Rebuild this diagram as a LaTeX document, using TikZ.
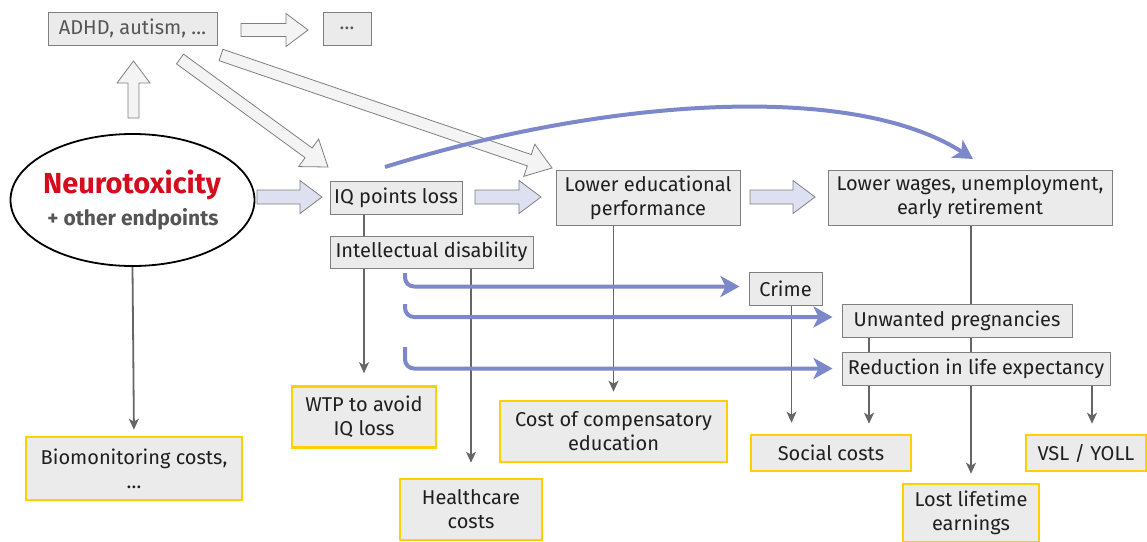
\documentclass[tikz,border=0pt]{standalone}
\usepackage{fontspec}
\setmainfont{Fira Sans}
\usetikzlibrary{shapes.geometric,arrows.meta,backgrounds,calc}
\definecolor{boxfill}{HTML}{EBEBEB}
\definecolor{boxdraw}{HTML}{7F7F7F}
\definecolor{gold}{HTML}{FFD000}
\definecolor{blueline}{HTML}{7C88CA}
\definecolor{lav}{HTML}{DDE0F1}
\definecolor{pale}{HTML}{F3F4F3}
\definecolor{conn}{HTML}{666666}
\definecolor{neuro}{HTML}{D40C1E}
\definecolor{greytext}{HTML}{555555}
\tikzset{
  box/.style={draw=boxdraw, fill=boxfill, line width=1pt, inner sep=0pt, align=center,
    text=black!88, font=\fontsize{20}{24}\selectfont},
  costbox/.style={box, draw=gold, line width=2.6pt},
  greybox/.style={box, text=greytext},
  conn/.style={draw=conn, line width=1.8pt, -{Stealth[length=11pt,width=10pt,inset=3pt]}},
  connl/.style={draw=conn, line width=1.8pt},
  blue/.style={draw=blueline, line width=4pt, rounded corners=9pt,
    -{Stealth[length=19pt,width=21pt,inset=5pt]}},
}
% #1 name, #2 fill, #3 tail, #4 tip, #5 shaft half width, #6 head half width, #7 head length
\newcommand\blockarr[7]{%
  \coordinate (#1-h) at ($(#4)!#7!(#3)$);
  \draw[fill=#2, draw=boxdraw, line width=0.8pt, line join=miter]
    ($(#3)!#5!90:(#4)$) -- ($(#1-h)!#5!90:(#4)$) -- ($(#1-h)!#6!90:(#4)$) -- (#4)
    -- ($(#1-h)!#6!-90:(#4)$) -- ($(#1-h)!#5!-90:(#4)$) -- ($(#3)!#5!-90:(#4)$) -- cycle;}
\begin{document}
\begin{tikzpicture}[x=1pt,y=-1pt]
\clip (0,0) rectangle (1147,541);
\useasboundingbox (0,0) rectangle (1147,541);
% nodes
\node[greybox, minimum width=169, minimum height=33] (adhd) at (132.5,28.5) {ADHD, autism, \dots};
\node[greybox, minimum width=48, minimum height=33] (dots) at (347,28.5) {\dots};
\node[ellipse, draw=black, line width=1.8pt, minimum width=244, minimum height=132, inner sep=0pt, align=center] (neuro) at (132.5,200) {};
\node[font=\fontsize{29}{30}\selectfont\bfseries, text=neuro, anchor=base] (nt) at (132,193) {Neurotoxicity};
\node[font=\fontsize{21}{22}\selectfont\bfseries, text=greytext, anchor=base] (ot) at (133,225) {+ other endpoints};
\node[box, minimum width=132, minimum height=33] (iq) at (396,197.5) {IQ points loss};
\node[box, minimum width=203, minimum height=32] (id) at (431.5,252) {Intellectual disability};
\node[box, minimum width=184, minimum height=55] (edu) at (648,197.5) {Lower educational\\performance};
\node[box, minimum width=284, minimum height=55] (wages) at (970,197.5) {Lower wages, unemployment,\\early retirement};
\node[box, minimum width=73, minimum height=33] (crime) at (785.5,288.5) {Crime};
\node[box, minimum width=230, minimum height=33] (unw) at (957,321) {Unwanted pregnancies};
\node[box, minimum width=268, minimum height=33] (red) at (976,368.5) {Reduction in life expectancy};
\node[costbox, minimum width=144, minimum height=61] (wtp) at (364,417) {WTP to avoid\\IQ loss};
\node[costbox, minimum width=142, minimum height=61] (hc) at (471,509.5) {Healthcare\\costs};
\node[costbox, minimum width=227, minimum height=61] (cost) at (613.5,431.5) {Cost of compensatory\\education};
\node[costbox, minimum width=160, minimum height=36] (social) at (831,453) {Social costs};
\node[costbox, minimum width=120, minimum height=36] (vsl) at (1086,453) {VSL / YOLL};
\node[costbox, minimum width=136, minimum height=58] (lost) at (971,513) {Lost lifetime\\earnings};
\node[costbox, minimum width=216, minimum height=63] (bio) at (134,468.5) {Biomonitoring costs,\\\dots};
% block arrows
\coordinate (a1t) at (241,30);    \coordinate (a1p) at (308,30);
\coordinate (a2t) at (133.5,118); \coordinate (a2p) at (133.5,61);
\coordinate (a3t) at (180,59);    \coordinate (a3p) at (328,167);
\coordinate (a4t) at (221,55);    \coordinate (a4p) at (552,168);
\coordinate (a5t) at (257,197);   \coordinate (a5p) at (322,197);
\coordinate (a6t) at (475,197);   \coordinate (a6p) at (541,197);
\coordinate (a7t) at (750,197);   \coordinate (a7p) at (815,197);
\blockarr{a1}{pale}{a1t}{a1p}{6.5pt}{16.5pt}{22pt}
\blockarr{a2}{pale}{a2t}{a2p}{5.5pt}{16.5pt}{22pt}
\blockarr{a3}{pale}{a3t}{a3p}{6pt}{17pt}{24pt}
\blockarr{a4}{pale}{a4t}{a4p}{6pt}{17pt}{24pt}
\blockarr{a5}{lav}{a5t}{a5p}{7pt}{16.5pt}{22pt}
\blockarr{a6}{lav}{a6t}{a6p}{7pt}{16.5pt}{22pt}
\blockarr{a7}{lav}{a7t}{a7p}{7pt}{16.5pt}{22pt}
% blue curve
\coordinate (cs) at (385,167);
\coordinate (ce) at (973,159);
\draw[blue] (cs) .. controls (600,100) and (850,80) .. (ce);
% blue stubs
\coordinate (b1) at (405,273);
\coordinate (b2) at (405,304);
\coordinate (b3) at (405,347);
\draw[blue] (b1) |- ([xshift=-9pt,yshift=2pt]crime.west);
\draw[blue] (b2) |- ([xshift=-9pt,yshift=4pt]unw.west);
\draw[blue] (b3) |- ([xshift=-9pt]red.west);
% grey connectors
\begin{scope}[on background layer]
\draw[connl] (iq.south -| wtp.north) -- (id.north -| wtp.north);
\draw[conn, shorten >=12pt] (id.south -| wtp.north) -- (wtp.north);
\draw[conn, shorten >=15pt] (id.south -| hc.north) -- (hc.north);
\draw[conn, shorten >=8pt] (edu.south -| cost.north) -- (cost.north);
\draw[conn, shorten >=6pt] (neuro.south) -- (bio.north);
\coordinate (cr) at ([xshift=6pt]crime.south);
\draw[conn, shorten >=11pt] (cr) -- (cr |- social.north);
\coordinate (ur) at ([xshift=-88pt]unw.south);
\draw[connl] (ur) -- (ur |- red.north);
\draw[conn, shorten >=10pt] (ur |- red.south) -- (ur |- social.north);
\draw[conn, shorten >=9pt] (wages.south -| lost.north) -- (lost.north);
\coordinate (rv) at ([xshift=116pt]red.south);
\draw[conn, shorten >=10pt] (rv) -- (rv |- vsl.north);
\end{scope}
\end{tikzpicture}
\end{document}
